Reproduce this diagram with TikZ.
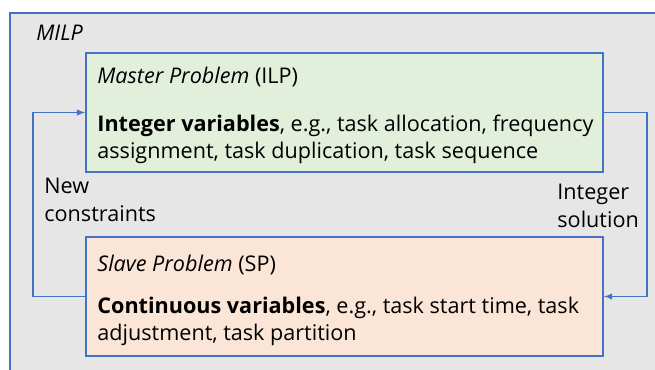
\documentclass[tikz,border=0pt]{standalone}
\usepackage{fontspec}
\setmainfont{Open Sans}
\usepackage{tikz}
\usetikzlibrary{arrows,positioning}
\definecolor{milpblue}{HTML}{4472C4}
\definecolor{milpgray}{HTML}{E6E6E6}
\definecolor{masterfill}{HTML}{E2EFDA}
\definecolor{slavefill}{HTML}{FBE5D6}
\tikzset{
  probbox/.style={draw=milpblue, line width=1.8pt, minimum width=517pt, minimum height=119pt, inner sep=0pt},
  boxtext/.style={anchor=west, inner sep=0pt, align=left, font=\fontsize{21.6}{27.5}\selectfont},
  feedback/.style={draw=milpblue, line width=1.8pt, -latex},
}

\begin{document}
\begin{tikzpicture}[x=1pt, y=-1pt, thick]
\useasboundingbox (0,0) rectangle (655,369);
%%%%% Outer box %%%%%
\draw[color=milpblue, fill=milpgray, line width=1.8pt] (10,13) rectangle (670,385);
\node[boxtext, font=\fontsize{21.6}{24}\itshape] (milp) at (36,33) {MILP};
%%%%% Problem boxes %%%%%
\node[probbox, fill=masterfill] (master) at (344.5,112.5) {};
\node[probbox, fill=slavefill] (slave) at (344.5,296.5) {};
\node[boxtext] (mtitle) at (97,77) {\textit{Master Problem} (ILP)};
\node[boxtext] (mbody) at (97,139.5) {\textbf{Integer variables}, e.g., task allocation, frequency\\assignment, task duplication, task sequence};
\node[boxtext] (stitle) at (97,265) {\textit{Slave Problem} (SP)};
\node[boxtext] (sbody) at (97,321.5) {\textbf{Continuous variables}, e.g., task start time, task\\adjustment, task partition};
%%%%% Feedback loop %%%%%
\draw[feedback] (slave.west) -- ++(-52,0) |- (master.west);
\draw[feedback] (master.east) -- ++(43,0) |- (slave.east);
\node[boxtext] (newc) at (44,200) {New\\constraints};
\node[boxtext] (intsol) at (557,206) {Integer\\solution};
\end{tikzpicture}
\end{document}
